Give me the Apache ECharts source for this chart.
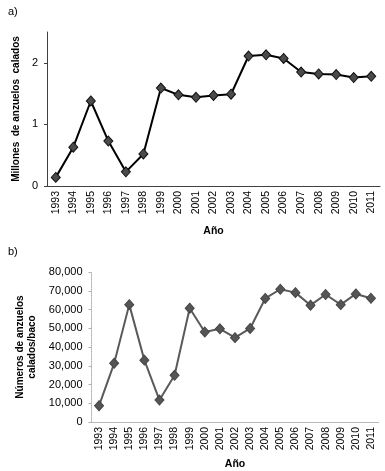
<!DOCTYPE html>
<html><head><meta charset="utf-8">
<script src="https://cdn.jsdelivr.net/npm/echarts@6/dist/echarts.min.js"></script>
<style>html,body{margin:0;padding:0;background:#fff}#c{width:385px;height:471px}</style>
</head><body><div id="c"></div>
<script>
var years = ['1993','1994','1995','1996','1997','1998','1999','2000','2001','2002','2003','2004','2005','2006','2007','2008','2009','2010','2011'];
var millonesAnzuelos = [0.14,0.63,1.38,0.73,0.23,0.52,1.59,1.48,1.44,1.47,1.49,2.11,2.13,2.07,1.85,1.82,1.81,1.76,1.78];
var anzuelosPorBaco = [8700,31300,62600,33000,11700,24900,60700,48000,49700,45000,49900,65900,70800,69000,62300,68000,62600,68300,66000];
var ticksA = [0,1,2];
var ticksB = [0,10000,20000,30000,40000,50000,60000,70000,80000];

var font = 'Liberation Sans, Arial, sans-serif';
var chart = echarts.init(document.getElementById('c'));
chart.setOption({
  animation: false,
  title: [
    {text: 'a)', left: 3, top: 1, textStyle: {fontFamily: font, fontSize: 11, fontWeight: 'normal', color: '#000'}},
    {text: 'b)', left: 3, top: 241, textStyle: {fontFamily: font, fontSize: 11, fontWeight: 'normal', color: '#000'}}
  ],
  grid: [
    {left: 47, top: 32, width: 333, height: 154},
    {left: 91.5, top: 272, width: 287, height: 154}
  ],
  xAxis: [
    {type: 'category', gridIndex: 0, data: years,
     axisLine: {lineStyle: {color: '#404040', width: 1}},
     axisTick: {lineStyle: {color: '#404040'}, length: 3},
     axisLabel: {rotate: 90, fontFamily: font, fontSize: 10.5, color: '#000', margin: 5},
     name: 'Año', nameLocation: 'middle', nameGap: 40,
     nameTextStyle: {fontFamily: font, fontSize: 10.5, fontWeight: 'bold', color: '#000'}},
    {type: 'category', gridIndex: 1, data: years,
     axisLine: {lineStyle: {color: '#b0b0b0', width: 1, type: 'dotted'}},
     axisTick: {lineStyle: {color: '#b0b0b0'}, length: 3},
     axisLabel: {rotate: 90, fontFamily: font, fontSize: 10.5, color: '#000', margin: 5},
     name: 'Año', nameLocation: 'middle', nameGap: 37,
     nameTextStyle: {fontFamily: font, fontSize: 10.5, fontWeight: 'bold', color: '#000'}}
  ],
  yAxis: [
    {type: 'value', gridIndex: 0, min: 0, max: 2.5, interval: 1,
     splitLine: {show: false},
     axisLine: {show: true, lineStyle: {color: '#404040'}},
     axisTick: {show: true, length: 3, customValues: ticksA, lineStyle: {color: '#404040'}},
     axisLabel: {customValues: ticksA, fontFamily: font, fontSize: 11, color: '#000', margin: 9},
     name: 'Millones  de anzuelos  calados', nameLocation: 'middle', nameGap: 21,
     nameTextStyle: {fontFamily: font, fontSize: 10, fontWeight: 'bold', color: '#000'}},
    {type: 'value', gridIndex: 1, min: 0, max: 80000, interval: 10000,
     splitLine: {show: false},
     axisLine: {show: true, lineStyle: {color: '#b0b0b0', type: 'dotted'}},
     axisTick: {show: true, length: 3, customValues: ticksB, lineStyle: {color: '#b0b0b0'}},
     axisLabel: {customValues: ticksB, fontFamily: font, fontSize: 11, color: '#000', margin: 9,
       formatter: function(v){ return v.toLocaleString('en-US'); }},
     name: 'Números de anzuelos\ncalados/baco', nameLocation: 'middle', nameGap: 40,
     nameTextStyle: {fontFamily: font, fontSize: 10, fontWeight: 'bold', color: '#000', lineHeight: 12}}
  ],
  series: [
    {type: 'line', xAxisIndex: 0, yAxisIndex: 0, data: millonesAnzuelos,
     symbol: 'diamond', symbolSize: [9, 10], showAllSymbol: true,
     lineStyle: {color: '#000', width: 2},
     itemStyle: {color: '#4a4a4a', borderColor: '#111', borderWidth: 1}},
    {type: 'line', xAxisIndex: 1, yAxisIndex: 1, data: anzuelosPorBaco,
     symbol: 'diamond', symbolSize: [9, 10], showAllSymbol: true,
     lineStyle: {color: '#5a5a5a', width: 2},
     itemStyle: {color: '#555', borderColor: '#444', borderWidth: 1}}
  ]
});
</script></body></html>
